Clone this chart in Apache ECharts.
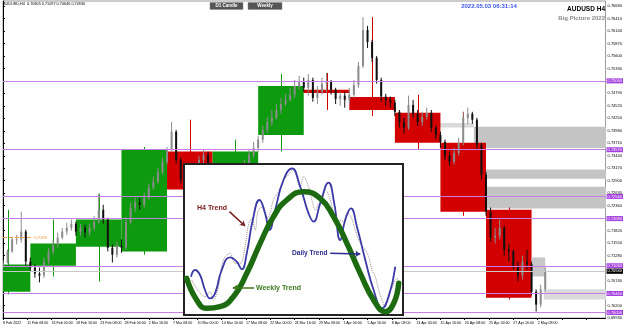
<!DOCTYPE html>
<html><head><meta charset="utf-8">
<script src="https://cdn.jsdelivr.net/npm/echarts@6/dist/echarts.min.js"></script>
<style>html,body{margin:0;padding:0;background:#fff}#c{width:625px;height:328px}</style>
</head><body><div id="c"></div>
<script>
// ---- x tick labels (every 16 H4 bars) ----
const timeLabels = ["8 Feb 2022","11 Feb 08:00","16 Feb 00:00","18 Feb 16:00","23 Feb 08:00","28 Feb 00:00","2 Mar 16:00","7 Mar 08:00","10 Mar 00:00","14 Mar 16:00","17 Mar 08:00","22 Mar 00:00","24 Mar 16:00","29 Mar 08:00","1 Apr 00:00","5 Apr 16:00","8 Apr 08:00","13 Apr 00:00","15 Apr 16:00","20 Apr 08:00","25 Apr 00:00","27 Apr 16:00","2 May 08:00"];

// ---- price candles, one per 3 H4 bars: [open, close, low, high] ----
const candles = [
[0.7106,0.7113,0.7102,0.7119],[0.7113,0.7137,0.7111,0.7141],[0.7137,0.7163,0.7134,0.7169],[0.7163,0.7163,0.7152,0.7173],
[0.7163,0.7180,0.7156,0.7223],[0.7180,0.7115,0.7106,0.7184],[0.7115,0.7102,0.7093,0.7124],[0.7102,0.7089,0.7080,0.7109],
[0.7089,0.7085,0.7070,0.7102],[0.7085,0.7115,0.7080,0.7124],[0.7115,0.7137,0.7109,0.7145],[0.7137,0.7152,0.7130,0.7163],
[0.7152,0.7167,0.7145,0.7178],[0.7167,0.7180,0.7163,0.7188],[0.7180,0.7188,0.7173,0.7199],[0.7188,0.7197,0.7182,0.7206],
[0.7197,0.7180,0.7171,0.7201],[0.7180,0.7188,0.7171,0.7197],[0.7188,0.7178,0.7167,0.7195],[0.7178,0.7188,0.7171,0.7197],
[0.7188,0.7201,0.7182,0.7214],[0.7201,0.7227,0.7197,0.7262],[0.7227,0.7206,0.7197,0.7238],[0.7206,0.7145,0.7137,0.7210],
[0.7145,0.7130,0.7113,0.7152],[0.7130,0.7150,0.7124,0.7158],[0.7150,0.7145,0.7134,0.7163],[0.7145,0.7201,0.7141,0.7212],
[0.7201,0.7232,0.7195,0.7243],[0.7232,0.7243,0.7223,0.7253],[0.7243,0.7238,0.7227,0.7253],[0.7238,0.7253,0.7232,0.7264],
[0.7253,0.7275,0.7249,0.7284],[0.7275,0.7288,0.7271,0.7299],[0.7288,0.7309,0.7284,0.7318],[0.7309,0.7331,0.7303,0.7340],
[0.7331,0.7357,0.7325,0.7363],[0.7357,0.7396,0.7353,0.7417],[0.7396,0.7335,0.7327,0.7400],[0.7335,0.7292,0.7284,0.7340],
[0.7292,0.7260,0.7249,0.7296],[0.7260,0.7223,0.7210,0.7262],[0.7223,0.7275,0.7219,0.7281],[0.7275,0.7335,0.7271,0.7344],
[0.7335,0.7346,0.7327,0.7357],[0.7346,0.7303,0.7297,0.7353],[0.7303,0.7271,0.7262,0.7309],[0.7271,0.7217,0.7210,0.7275],
[0.7217,0.7173,0.7163,0.7223],[0.7173,0.7163,0.7150,0.7184],[0.7163,0.7195,0.7154,0.7206],[0.7195,0.7238,0.7188,0.7249],
[0.7238,0.7281,0.7232,0.7292],[0.7281,0.7325,0.7275,0.7335],[0.7325,0.7346,0.7318,0.7357],[0.7346,0.7361,0.7340,0.7374],
[0.7361,0.7379,0.7353,0.7387],[0.7379,0.7400,0.7372,0.7409],[0.7400,0.7417,0.7394,0.7428],[0.7417,0.7426,0.7409,0.7443],
[0.7426,0.7443,0.7422,0.7456],[0.7443,0.7456,0.7435,0.7469],[0.7456,0.7465,0.7452,0.7478],[0.7465,0.7476,0.7461,0.7491],
[0.7476,0.7495,0.7469,0.7508],[0.7495,0.7504,0.7487,0.7517],[0.7504,0.7491,0.7482,0.7513],[0.7491,0.7508,0.7474,0.7521],
[0.7508,0.7469,0.7461,0.7513],[0.7469,0.7482,0.7456,0.7495],[0.7482,0.7500,0.7476,0.7513],[0.7500,0.7504,0.7482,0.7523],
[0.7504,0.7487,0.7476,0.7508],[0.7487,0.7467,0.7456,0.7491],[0.7467,0.7474,0.7452,0.7482],[0.7474,0.7465,0.7448,0.7482],
[0.7465,0.7476,0.7456,0.7491],[0.7476,0.7497,0.7469,0.7508],[0.7497,0.7538,0.7491,0.7547],[0.7538,0.7616,0.7534,0.7644],
[0.7616,0.7590,0.7577,0.7625],[0.7590,0.7556,0.7547,0.7595],[0.7556,0.7508,0.7500,0.7560],[0.7508,0.7472,0.7461,0.7513],
[0.7472,0.7465,0.7452,0.7478],[0.7465,0.7459,0.7448,0.7472],[0.7459,0.7439,0.7430,0.7465],[0.7439,0.7417,0.7405,0.7443],
[0.7417,0.7405,0.7392,0.7426],[0.7405,0.7454,0.7400,0.7474],[0.7454,0.7435,0.7426,0.7465],[0.7435,0.7417,0.7409,0.7443],
[0.7417,0.7428,0.7409,0.7439],[0.7428,0.7437,0.7422,0.7448],[0.7437,0.7405,0.7396,0.7443],[0.7405,0.7389,0.7379,0.7409],
[0.7389,0.7374,0.7361,0.7396],[0.7374,0.7344,0.7335,0.7379],[0.7344,0.7331,0.7322,0.7353],[0.7331,0.7350,0.7325,0.7361],
[0.7350,0.7372,0.7344,0.7383],[0.7372,0.7426,0.7366,0.7439],[0.7426,0.7435,0.7413,0.7448],[0.7435,0.7422,0.7413,0.7439],
[0.7422,0.7368,0.7357,0.7426],[0.7368,0.7303,0.7292,0.7372],[0.7303,0.7223,0.7214,0.7309],[0.7223,0.7167,0.7158,0.7232],
[0.7167,0.7171,0.7154,0.7188],[0.7171,0.7188,0.7163,0.7206],[0.7188,0.7141,0.7128,0.7193],[0.7141,0.7137,0.7115,0.7154],
[0.7137,0.7106,0.7098,0.7141],[0.7106,0.7085,0.7072,0.7115],[0.7085,0.7115,0.7076,0.7128],[0.7115,0.7109,0.7098,0.7141],
[0.7109,0.7050,0.7042,0.7115],[0.7050,0.7022,0.7007,0.7055],[0.7022,0.7055,0.7016,0.7065],[0.7055,0.7093,0.7050,0.7102]
];
const barsPerCandle = 3;

// ---- weekly boxes (bar index range, OHLC) ----
const weekStart = [-12,18,48,78,108,138,168,198,228,258,288,318,348];
const weekEnd   = [18,48,78,108,138,168,198,228,258,288,318,348,357];
const weekOpen  = [0.7050,0.7106,0.7147,0.7137,0.7353,0.7271,0.7389,0.7487,0.7471,0.7437,0.7372,0.7227,0.7083];
const weekClose = [0.7109,0.7154,0.7206,0.7357,0.7271,0.7353,0.7495,0.7480,0.7443,0.7372,0.7223,0.7037,0.7124];
const weekHigh  = [0.7227,0.7206,0.7262,0.7363,0.7422,0.7379,0.7521,0.7523,0.7644,0.7476,0.7439,0.7232,0.7124];
const weekLow   = [0.7044,0.7083,0.7072,0.7130,0.7184,0.7150,0.7353,0.7443,0.7430,0.7357,0.7214,0.7033,0.7083];

// ---- gray zones ----
const zoneStart  = [287,310,317,317,356];
const zoneEnd    = [310,400,400,400,400];
const zoneTop    = [0.7415,0.7407,0.7314,0.7277,0.7055];
const zoneBottom = [0.7405,0.7361,0.7294,0.7230,0.7033];
const zoneLight  = [true,false,false,false,true];

// ---- horizontal levels ----
const purpleLevels = [0.7506,0.7357,0.7256,0.7208,0.7106,0.7046,0.7005];
const bidPrice = 0.7094;
const orangeLevel = 0.7167, orangeEndBar = 20, orangeText = "0.7158";

// ---- inset sketch curves (sketch units) ----
const weeklyCurve = [[20,355],[50,420],[80,445],[120,440],[160,410],[200,340],[240,250],[280,170],[320,120],[370,95],[420,115],[460,170],[500,250],[540,340],[580,420],[615,455],[640,430],[655,370]];
const dailyCurve = [[33,350],[45,330],[60,345],[75,390],[90,415],[105,400],[125,330],[150,292],[170,305],[185,328],[200,280],[218,180],[238,120],[255,160],[268,210],[285,150],[310,60],[335,25],[360,80],[385,160],[400,185],[420,130],[445,68],[462,130],[480,240],[495,180],[512,145],[530,200],[555,300],[580,390],[605,445],[625,410],[645,320]];
const h4Curve = [[35,360],[50,385],[62,400],[75,410],[90,395],[100,420],[115,380],[130,300],[150,280],[165,310],[180,310],[195,260],[205,195],[215,175],[225,210],[235,150],[250,140],[258,175],[268,165],[280,120],[295,95],[310,60],[325,45],[340,25],[350,55],[360,80],[370,50],[385,80],[395,120],[405,150],[415,130],[425,120],[435,90],[447,110],[458,150],[470,200],[478,180],[490,185],[500,160],[512,170],[525,210],[540,250],[555,270],[565,290],[575,330],[585,350],[595,390],[605,420],[615,440],[625,400],[635,385],[645,360],[655,355]];

const chart = echarts.init(document.getElementById('c'), null, {renderer:'canvas'});
const F = 'Arial, "Liberation Sans", sans-serif';

const candleData = candles.map((d,i)=>[i*barsPerCandle, d[0], d[1], d[2], d[3]]);
const weekData = weekStart.map((s,i)=>[s, weekEnd[i], weekOpen[i], weekClose[i], weekHigh[i], weekLow[i], i===weekStart.length-1?1:0]);
const zoneData = zoneStart.map((s,i)=>[s, zoneEnd[i], zoneTop[i], zoneBottom[i], zoneLight[i]?1:0]);

const levelLines = purpleLevels.map(v=>({yAxis:v, lineStyle:{color:'#c77fe8',width:1,type:'solid'},
  label:{show:true,position:'end',distance:1,formatter:v.toFixed(5),fontSize:4,fontFamily:F,color:'#fff',backgroundColor:'#a43fe0',padding:[0.5,1]}}));
levelLines.push({yAxis:bidPrice, lineStyle:{color:'#c8c8c8',width:1,type:'solid'},
  label:{show:true,position:'end',distance:1,formatter:bidPrice.toFixed(5),fontSize:4,fontFamily:F,color:'#fff',backgroundColor:'#000',padding:[0.5,1]}});
levelLines.push([{coord:[0,orangeLevel]},{coord:[orangeEndBar,orangeLevel], lineStyle:{color:'#f0a040',width:1,type:'dashed'},
  label:{show:true,position:'end',distance:1,formatter:orangeText,fontSize:4,fontFamily:F,color:'#e89030'}}]);

const option = {
  animation:false,
  backgroundColor:'#fff',
  grid:[
    {left:2,right:18,top:1,bottom:10,show:true,borderColor:'#9a9a9a',borderWidth:1,backgroundColor:'#fff'},
    {left:184,top:164,width:219,height:151}
  ],
  xAxis:[
    {type:'value',gridIndex:0,min:0,max:396.7,interval:16,
     axisLine:{show:true,lineStyle:{color:'#000',width:1}},
     axisTick:{show:true,length:2,lineStyle:{color:'#000'}},
     splitLine:{show:false},
     axisLabel:{show:true,fontSize:3.6,fontFamily:F,color:'#000',margin:2.5,align:'left',showMaxLabel:false,
       formatter:v=>timeLabels[Math.round(v/16)]||''}},
    {type:'value',gridIndex:1,min:12,max:668,show:false}
  ],
  yAxis:[
    {type:'value',gridIndex:0,position:'right',min:0.6993,max:0.76788,interval:0.0027,
     axisLine:{show:true,lineStyle:{color:'#000',width:1}},
     axisTick:{show:true,length:2,lineStyle:{color:'#000'}},
     splitLine:{show:false},
     axisLabel:{show:true,fontSize:4,fontFamily:F,color:'#000',margin:2,showMaxLabel:false,
       formatter:v=>v.toFixed(5)}},
    {type:'value',gridIndex:1,min:12,max:465,inverse:true,show:false}
  ],
  graphic:[
    {type:'text',x:3,y:4,z:5,style:{text:'AUDUSD,H4  0.70805 0.71097 0.70646 0.70930',font:'3.8px '+F,fill:'#000',verticalAlign:'middle'}},
    {type:'rect',shape:{x:210,y:2.5,width:33,height:7},z:5,style:{fill:'#555',stroke:'#888',lineWidth:0.5}},
    {type:'text',x:226.5,y:6,z:6,style:{text:'D1 Candle',font:'bold 4.5px '+F,fill:'#fff',align:'center',verticalAlign:'middle'}},
    {type:'rect',shape:{x:248,y:2.5,width:34,height:7},z:5,style:{fill:'#555',stroke:'#888',lineWidth:0.5}},
    {type:'text',x:265,y:6,z:6,style:{text:'Weekly',font:'bold 4.5px '+F,fill:'#fff',align:'center',verticalAlign:'middle'}},
    {type:'text',x:489,y:6,z:6,style:{text:'2022.05.03 06:31:14',font:'bold 6px '+F,fill:'#3b55f0',align:'center',verticalAlign:'middle'}},
    {type:'text',x:605,y:9.5,z:6,style:{text:'AUDUSD H4',font:'bold 6.5px '+F,fill:'#000',align:'right',verticalAlign:'middle'}},
    {type:'text',x:605,y:18,z:6,style:{text:'Big Picture 2022',font:'bold 6px '+F,fill:'#8a8a8a',align:'right',verticalAlign:'middle'}},
    {type:'rect',shape:{x:184,y:164,width:219,height:151},z:10,style:{fill:'#fff',stroke:'#222',lineWidth:2}},
    {type:'text',x:197,y:208,z:20,style:{text:'H4 Trend',font:'bold 7px '+F,fill:'#7a1c1c',verticalAlign:'middle'}},
    {type:'text',x:292,y:253,z:20,style:{text:'Daily Trend',font:'bold 6.6px '+F,fill:'#2b2b8f',verticalAlign:'middle'}},
    {type:'text',x:256,y:288,z:20,style:{text:'Weekly Trend',font:'bold 7px '+F,fill:'#3c7a1e',verticalAlign:'middle'}}
  ],
  series:[
    {type:'custom',name:'zones',xAxisIndex:0,yAxisIndex:0,z:1,clip:true,data:zoneData,
     renderItem:(p,api)=>{
       const a=api.coord([api.value(0),api.value(2)]), b=api.coord([api.value(1),api.value(3)]);
       return {type:'rect',shape:{x:a[0],y:a[1],width:b[0]-a[0],height:b[1]-a[1]},style:{fill:api.value(4)?'#dadada':'#c4c4c4'}};
     }},
    {type:'custom',name:'weeks',xAxisIndex:0,yAxisIndex:0,z:2,clip:true,data:weekData,
     renderItem:(p,api)=>{
       const s=api.value(0),e=api.value(1),o=api.value(2),c=api.value(3),h=api.value(4),l=api.value(5),cur=api.value(6);
       const col = cur ? '#c8c8c8' : (c>=o ? '#0e9a0e' : '#d20000');
       const a=api.coord([s,Math.max(o,c)]), b=api.coord([e,Math.min(o,c)]);
       const m=(s+e)/2, ph=api.coord([m,h]), pl=api.coord([m,l]);
       return {type:'group',children:[
         {type:'line',shape:{x1:Math.round(ph[0])+0.5,y1:ph[1],x2:Math.round(pl[0])+0.5,y2:pl[1]},style:{stroke:col,lineWidth:1}},
         {type:'rect',shape:{x:a[0],y:a[1],width:b[0]-a[0],height:Math.max(1,b[1]-a[1])},style:{fill:col}}
       ]};
     }},
    {type:'line',name:'levels',xAxisIndex:0,yAxisIndex:0,z:3,data:[],
     markLine:{silent:true,precision:5,symbol:['none','none'],animation:false,data:levelLines}},
    {type:'custom',name:'price',xAxisIndex:0,yAxisIndex:0,z:4,clip:true,data:candleData,
     renderItem:(p,api)=>{
       const x=api.value(0),o=api.value(1),c=api.value(2),l=api.value(3),h=api.value(4);
       const pO=api.coord([x,o]),pC=api.coord([x,c]),pL=api.coord([x,l]),pH=api.coord([x,h]);
       const col = c>=o ? '#8c8c8c' : '#111';
       const w=2;
       return {type:'group',children:[
         {type:'line',shape:{x1:pH[0],y1:pH[1],x2:pL[0],y2:pL[1]},style:{stroke:col,lineWidth:1}},
         {type:'rect',shape:{x:pO[0]-w/2,y:Math.min(pO[1],pC[1]),width:w,height:Math.max(1,Math.abs(pO[1]-pC[1]))},style:{fill:col}}
       ]};
     }},
    {type:'line',name:'H4 Trend',xAxisIndex:1,yAxisIndex:1,z:12,data:h4Curve,smooth:0.4,symbol:'none',
     lineStyle:{color:'#a08888',width:1,type:'dotted'}},
    {type:'line',name:'Daily Trend',xAxisIndex:1,yAxisIndex:1,z:13,data:dailyCurve,smooth:0.5,symbol:'none',
     lineStyle:{color:'#3a3aa6',width:1.8}},
    {type:'line',name:'Weekly Trend',xAxisIndex:1,yAxisIndex:1,z:14,data:weeklyCurve,smooth:0.5,symbol:'none',
     lineStyle:{color:'#1d6b10',width:5.5,cap:'round'},
     markLine:{silent:true,z:20,symbol:['none','arrow'],symbolSize:5,animation:false,label:{show:false},
       data:[
         [{coord:[148,155]},{coord:[195,198],lineStyle:{color:'#7a1c1c',width:1.5,type:'solid'}}],
         [{coord:[450,280]},{coord:[540,282],lineStyle:{color:'#2b2b8f',width:1.5,type:'solid'}}],
         [{coord:[222,383]},{coord:[158,383],lineStyle:{color:'#3c7a1e',width:1.5,type:'solid'}}]
       ]}}
  ]
};
chart.setOption(option);
</script>
</body></html>
